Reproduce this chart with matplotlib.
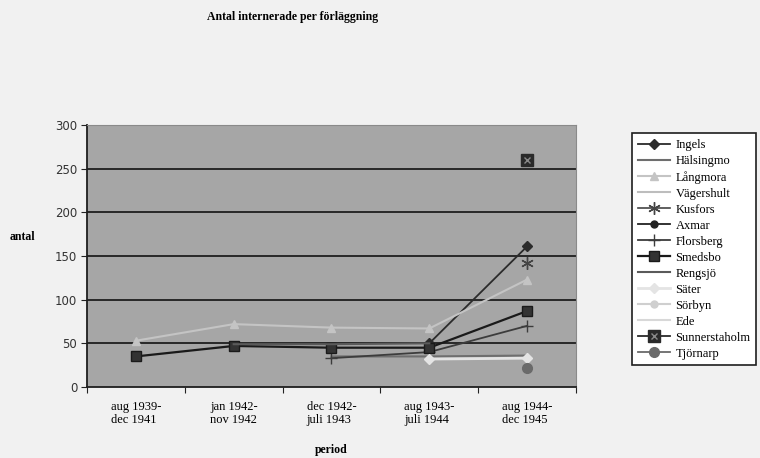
import numpy as np
import matplotlib
matplotlib.use("Agg")
import matplotlib.pyplot as plt
from matplotlib.lines import Line2D
from matplotlib.legend_handler import HandlerTuple

periods = ["aug 1939-\ndec 1941", "jan 1942-\nnov 1942", "dec 1942-\njuli 1943",
           "aug 1943-\njuli 1944", "aug 1944-\ndec 1945"]
nan = np.nan
ingels        = [nan, nan, nan, 50, 161]
halsingmo     = [nan, nan, 35, 35, 36]
langmora      = [53, 72, 68, 67, 123]
vagershult    = [nan, nan, nan, nan, nan]
kusfors       = [nan, nan, nan, nan, 142]
axmar         = [nan, nan, nan, nan, nan]
florsberg     = [nan, nan, 33, 40, 70]
smedsbo       = [35, 47, 45, 45, 87]
rengsjo       = [nan, 49, 49, 50, nan]
sater         = [nan, nan, nan, 32, 33]
sorbyn        = [nan, nan, nan, nan, nan]
ede           = [nan, nan, nan, nan, nan]
sunnerstaholm = [nan, nan, nan, nan, 260]
tjornarp      = [nan, nan, nan, nan, 22]
yticks = [0, 50, 100, 150, 200, 250, 300]

serif = "Liberation Serif"
fig = plt.figure(figsize=(7.6, 4.58), dpi=100)
fig.patch.set_facecolor("#f1f1f1")
ax = fig.add_axes([87/760, 1-387/458, (576-87)/760, (387-125)/458])
ax.set_facecolor("#a6a6a6")
x = np.arange(len(periods)) + 0.5

for v in yticks[1:-1]:
    ax.axhline(v, color="#1e1e1e", lw=1.3, zorder=1)

series = [
    ("Ingels", ingels, dict(color="#2b2b2b", marker="D", ms=5, lw=1.3)),
    ("Hälsingmo", halsingmo, dict(color="#6e6e6e", marker=None, lw=1.5)),
    ("Långmora", langmora, dict(color="#c4c4c4", marker="^", ms=6, lw=1.5)),
    ("Vägershult", vagershult, dict(color="#bdbdbd", marker=None, lw=1.5)),
    ("Kusfors", kusfors, dict(color="#444444", marker=(6, 2, 0), ms=9, lw=1.2, mew=1.0)),
    ("Axmar", axmar, dict(color="#222222", marker="o", ms=5, lw=1.3)),
    ("Florsberg", florsberg, dict(color="#3c3c3c", marker="+", ms=9, lw=1.3, mew=1.0)),
    ("Smedsbo", smedsbo, dict(color="#1a1a1a", marker="s", ms=7, lw=1.6, mfc="#333333")),
    ("Rengsjö", rengsjo, dict(color="#5a5a5a", marker=None, lw=1.5)),
    ("Säter", sater, dict(color="#e4e4e4", marker="D", ms=5, lw=2.0)),
    ("Sörbyn", sorbyn, dict(color="#cfcfcf", marker="o", ms=5, lw=1.5)),
    ("Ede", ede, dict(color="#d8d8d8", marker=None, lw=1.5)),
]
handles = []
for name, vals, kw in series:
    ln, = ax.plot(x, vals, zorder=3, **kw)
    handles.append(ln)

sq, = ax.plot(x, sunnerstaholm, ls="none", marker="s", ms=9, color="#2a2a2a", zorder=4)
sx, = ax.plot(x, sunnerstaholm, ls="none", marker="x", ms=5, color="#8a8a8a", mew=1.0, zorder=5)
sl = Line2D([], [], color="#2a2a2a", lw=1.3)
handles.append((sl, sq, sx))
tj, = ax.plot(x, tjornarp, color="#6a6a6a", marker="o", ms=7, lw=1.3, zorder=4)
handles.append(tj)
labels = [s[0] for s in series] + ["Sunnerstaholm", "Tjörnarp"]

ax.set_xlim(0, len(periods))
ax.set_ylim(0, 300)
ax.set_yticks(yticks)
ax.set_xticks(np.arange(len(periods) + 1))
ax.set_xticklabels([])
ax.set_xticks(x, minor=True)
ax.set_xticklabels(periods, minor=True, fontfamily=serif, fontsize=9, linespacing=1.1,
                   multialignment="left")
ax.tick_params(axis="x", which="minor", length=0, pad=10)
ax.tick_params(axis="x", which="major", length=4, direction="out", color="#222222")
ax.tick_params(axis="y", length=4, direction="out", color="#222222", labelsize=8.5, pad=3)
for lab in ax.get_yticklabels():
    lab.set_fontfamily("DejaVu Sans")
    lab.set_color("#333333")
for s in ["left", "bottom"]:
    ax.spines[s].set_color("#1e1e1e")
    ax.spines[s].set_linewidth(1.3)
for s in ["top", "right"]:
    ax.spines[s].set_color("#8a8a8a")
    ax.spines[s].set_linewidth(0.8)

fig.text(293/760, 1-17/458, "Antal internerade per förläggning", ha="center", va="center",
         fontfamily=serif, fontweight="bold", fontsize=8.5)
fig.text(22/760, 1-237/458, "antal", ha="center", va="center",
         fontfamily=serif, fontweight="bold", fontsize=8.5)
fig.text(331/760, 1-450/458, "period", ha="center", va="center",
         fontfamily=serif, fontweight="bold", fontsize=8.5)

leg = fig.legend(handles, labels, loc="upper left", bbox_to_anchor=(626/760, 1-127/458),
                 prop={"family": serif, "size": 9}, frameon=True, fancybox=False,
                 edgecolor="#1e1e1e", facecolor="white", framealpha=1,
                 handlelength=2.6, handletextpad=0.4, labelspacing=0.32, borderpad=0.45,
                 handler_map={tuple: HandlerTuple(ndivide=1, pad=0)})
leg.get_frame().set_linewidth(1.2)

fig.savefig("out.png", dpi=100, facecolor=fig.get_facecolor())
